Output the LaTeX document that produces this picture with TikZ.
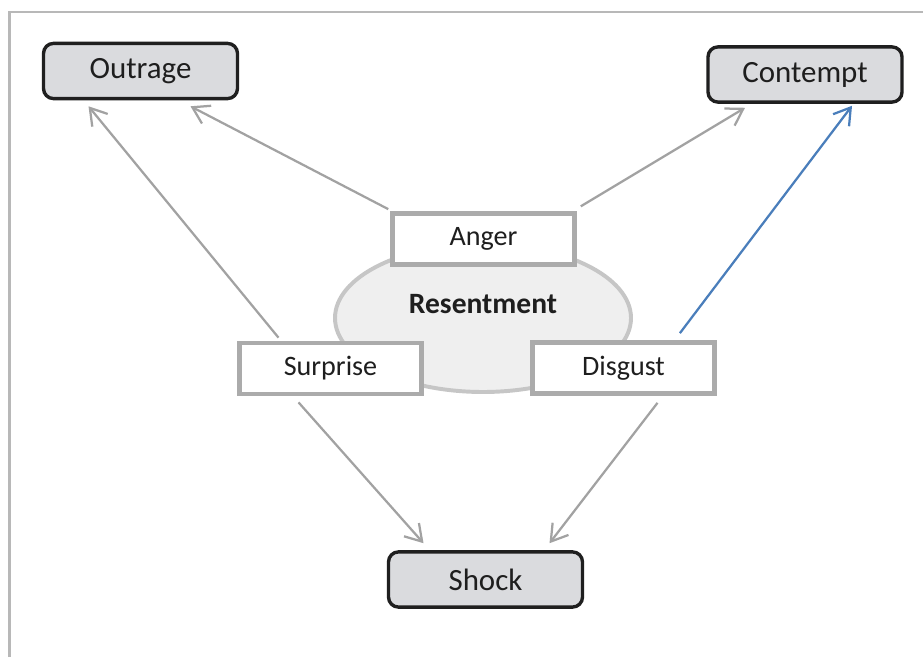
\documentclass[tikz,border=0pt]{standalone}
\usepackage{fontspec}
\setmainfont{Carlito}
\usetikzlibrary{shapes.geometric,arrows.meta}
\definecolor{framegray}{HTML}{B8B8B8}
\definecolor{boxgray}{HTML}{DADBDE}
\definecolor{innergray}{HTML}{ABABAB}
\definecolor{ellgray}{HTML}{C6C6C6}
\definecolor{ellfill}{HTML}{EFEFEF}
\definecolor{linkgray}{HTML}{A2A2A2}
\definecolor{linkblue}{HTML}{4A7EBB}
\definecolor{textdark}{HTML}{1E1E1E}
\begin{document}
\begin{tikzpicture}[
    outerbox/.style={rectangle, rounded corners=0.25cm, draw=black!88, line width=2.4pt, fill=boxgray, text=textdark, minimum width=4.85cm, minimum height=1.38cm, font=\fontsize{22}{26}\selectfont},
    innerbox/.style={rectangle, draw=innergray, line width=3.2pt, fill=white, text=textdark, minimum width=4.55cm, minimum height=1.28cm, font=\fontsize{20}{24}\selectfont},
    link/.style={-{Straight Barb[length=4mm,width=5mm]}, draw=linkgray, line width=1.6pt}
]
    \useasboundingbox (0,0) rectangle (23.075,16.425);
    \draw[framegray, line width=0.06cm] (0.24,0) -- (0.24,16.13) -- (23.075,16.13);

    \node[ellipse, draw=ellgray, line width=2.8pt, fill=ellfill, minimum width=7.4cm, minimum height=3.7cm,
        label={[yshift=0.35cm, text=textdark, font=\fontsize{21}{25}\selectfont\bfseries]center:Resentment}] (resentment) at (12.075,8.475) {};

    \node[outerbox] (outrage) at (3.5125,14.65) {Outrage};
    \node[outerbox] (contempt) at (20.125,14.5625) {Contempt};
    \node[outerbox] (shock) at (12.1375,1.9375) {Shock};

    \node[innerbox] (anger) at (12.0875,10.45) {Anger};
    \node[innerbox] (surprise) at (8.2625,7.2125) {Surprise};
    \node[innerbox] (disgust) at (15.5875,7.225) {Disgust};

    \draw[link] ([shift={(-0.05,0.05)}]anger.north west) -- ([shift={(1.25,-0.15)}]outrage.south);
    \draw[link] ([shift={(0.1,0.12)}]anger.north east) -- ([shift={(-1.5,-0.1)}]contempt.south);
    \draw[link] ([shift={(-1.3,0.075)}]surprise.north) -- ([shift={(-1.3,-0.15)}]outrage.south);
    \draw[link, draw=linkblue] ([shift={(1.41,0.175)}]disgust.north) -- ([shift={(1.175,-0.05)}]contempt.south);
    \draw[link] ([shift={(-0.8,-0.15)}]surprise.south) -- ([shift={(-1.55,0.175)}]shock.north);
    \draw[link] ([shift={(0.85,-0.175)}]disgust.south) -- ([shift={(1.6,0.175)}]shock.north);
\end{tikzpicture}
\end{document}
